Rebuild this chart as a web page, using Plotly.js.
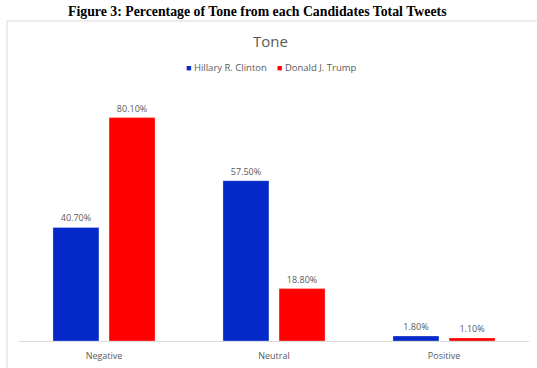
<!DOCTYPE html>
<html><head><meta charset="utf-8">
<script src="https://cdn.plot.ly/plotly-3.0.1.min.js"></script>
<style>body{margin:0;background:#fff;}#chart{width:537px;height:368px;}</style>
</head><body><div id="chart"></div>
<script>
const categories = ["Negative", "Neutral", "Positive"];
const clinton = [40.7, 57.5, 1.8];
const trump = [80.1, 18.8, 1.1];
const seriesNames = ["Hillary R. Clinton", "Donald J. Trump"];
const seriesColors = ["#0429C8", "#FF0000"];
const figureTitle = "Figure 3: Percentage of Tone from each Candidates Total Tweets";
const chartTitle = "Tone";

const fmt = v => v.toFixed(2) + "%";
const labelFont = {family: "Open Sans, Noto Sans, sans-serif", size: 9, color: "#595959"};
function trace(vals, name, color) {
  return {type: "bar", x: categories, y: vals, name: name, showlegend: false,
    marker: {color: color, line: {color: "rgba(255,255,255,0.6)", width: 0.5}},
    text: vals.map(fmt), textposition: "outside", cliponaxis: false,
    textfont: labelFont};
}
// plot area: x 19..529, y 90..341
const T = 90, B = 341, H = B - T;
const py = px => (B - px) / H;
const L = 19, R = 529, W = R - L;
const px2x = px => (px - L) / W;
const data = [trace(clinton, seriesNames[0], seriesColors[0]), trace(trump, seriesNames[1], seriesColors[1])];
const legendX = [184, 275];
const legendAnns = seriesNames.map((n, i) => ({
  text: '<span style="color:' + seriesColors[i] + ';font-size:9px">■</span> ' + n,
  xref: "paper", yref: "paper", x: px2x(legendX[i]), y: py(67),
  xanchor: "left", yanchor: "middle", showarrow: false,
  font: {family: "Open Sans, Noto Sans, sans-serif", size: 9.5, color: "#595959"}}));
const layout = {
  width: 537, height: 368,
  margin: {l: L, r: 537 - R, t: T, b: 368 - B, pad: 0},
  paper_bgcolor: "#fff", plot_bgcolor: "#fff",
  barmode: "group", bargap: 0.34, bargroupgap: 0.18,
  showlegend: false,
  xaxis: {type: "category", range: [-0.5, 2.5], showline: true, linecolor: "#D9D9D9", linewidth: 1,
    ticks: "", tickfont: labelFont, ticklabelstandoff: 6, fixedrange: true},
  yaxis: {range: [0, 90], visible: false, showgrid: false, zeroline: false, fixedrange: true},
  shapes: [
    {type: "rect", xref: "paper", yref: "paper", x0: px2x(7), x1: px2x(545), y0: py(21), y1: py(380),
     line: {color: "#D9D9D9", width: 1}, fillcolor: "rgba(0,0,0,0)", layer: "below"}
  ],
  annotations: [
    {text: "<b>" + figureTitle + "</b>", xref: "paper", yref: "paper", x: px2x(257), y: py(11),
     xanchor: "center", yanchor: "middle", showarrow: false,
     font: {family: "Liberation Serif, Times New Roman, serif", size: 13.8, color: "#000"}},
    {text: chartTitle, xref: "paper", yref: "paper", x: px2x(270), y: py(41),
     xanchor: "center", yanchor: "middle", showarrow: false,
     font: {family: "Open Sans, Noto Sans, sans-serif", size: 15, color: "#595959"}}
  ].concat(legendAnns)
};
Plotly.newPlot("chart", data, layout, {staticPlot: true, displayModeBar: false});
</script></body></html>
